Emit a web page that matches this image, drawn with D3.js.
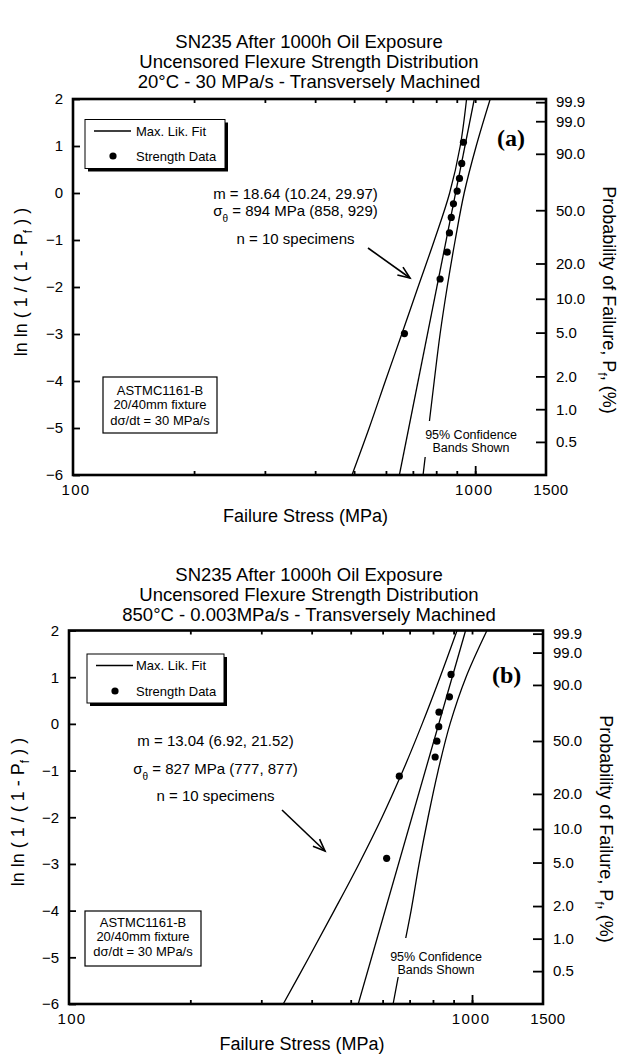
<!DOCTYPE html>
<html>
<head>
<meta charset="utf-8">
<script src="https://cdn.jsdelivr.net/npm/d3@7"></script>
<style>
body { margin: 0; background: #fff; }
svg text { font-family: "Liberation Sans", Arial, Helvetica, sans-serif; fill: #000; }
</style>
</head>
<body>
<div id="chart"></div>
<script>
// ---- data ----
var lnlnTicks = [2, 1, 0, -1, -2, -3, -4, -5, -6];
var probTicks = [99.9, 99.0, 90.0, 50.0, 20.0, 10.0, 5.0, 2.0, 1.0, 0.5];
var stressTicks = [200, 300, 400, 500, 600, 700, 800, 900, 1000];
var stressLabels = [100, 1000, 1500];
// ln ln levels where the confidence bands were read
var bandLevels = [2, 1, 0, -1, -2, -3, -4, -5, -6];

// panel (a)
var titleA = ["SN235 After 1000h Oil Exposure",
              "Uncensored Flexure Strength Distribution",
              "20°C - 30 MPa/s - Transversely Machined"];
var strengthA = [935, 926, 914, 902, 883, 872, 863, 852, 818, 667];
var lnlnA = [1.08, 0.63, 0.31, 0.04, -0.23, -0.52, -0.85, -1.26, -1.83, -2.99];
var fitStressA = [648, 995];
var fitLnlnA = [-6, 2];
var lowBandA = [952, 918, 864, 792, 721, 657, 598, 545, 494];
var highBandA = [1090, 1006, 939, 892, 852, 818, 791, 766, 742];
var statsA = ["m = 18.64 (10.24, 29.97)", " = 894 MPa (858, 929)", "n = 10 specimens"];

// panel (b)
var titleB = ["SN235 After 1000h Oil Exposure",
              "Uncensored Flexure Strength Distribution",
              "850°C - 0.003MPa/s - Transversely Machined"];
var strengthB = [887, 879, 828, 827, 818, 810, 660, 614];
var lnlnB = [1.06, 0.58, 0.25, -0.06, -0.37, -0.71, -1.12, -2.88];
var fitStressB = [522, 964];
var fitLnlnB = [-6, 2];
var lowBandB = [918, 833, 752, 674, 598, 524, 455, 394, 340];
var highBandB = [1089, 966, 882, 824, 778, 739, 706, 670, 637];
var statsB = ["m = 13.04 (6.92, 21.52)", " = 827 MPa (777, 877)", "n = 10 specimens"];

var astmLines = ["ASTMC1161-B", "20/40mm fixture", "dσ/dt = 30 MPa/s"];
var confLines = ["95% Confidence", "Bands Shown"];

var svg = d3.select("#chart").append("svg")
    .attr("width", 619)
    .attr("height", 1055);

var panels = [
  { id: "a", label: "(a)", title: titleA, s: strengthA, p: lnlnA,
    fitS: fitStressA, fitP: fitLnlnA, lo: lowBandA, hi: highBandA, stats: statsA,
    left: 73, right: 546, top: 99, bottom: 475,
    titleY: [48, 68, 88],
    legend: { x: 85, y: 119.5, w: 140, h: 49, row1: 131, row2: 156 },
    tagX: 497, tagY: 146,
    statsX: 295.5, statsY: [198.5, 215.5, 243.5],
    arrow: [[368, 248], [410, 278]],
    astm: { x: 103, y: 377, w: 114, h: 56, cx: 160, ys: [395, 408.5, 424.5] },
    conf: { cx: 471, ys: [439, 452], maskTop: 421, maskBot: 457 },
    yLabelX: 27, yLabelY: 282, rLabelX: 603, rLabelY: 300,
    xLabelY: 522, tickLabelY: 495 },
  { id: "b", label: "(b)", title: titleB, s: strengthB, p: lnlnB,
    fitS: fitStressB, fitP: fitLnlnB, lo: lowBandB, hi: highBandB, stats: statsB,
    left: 69, right: 543, top: 630.5, bottom: 1004,
    titleY: [581, 601, 621],
    legend: { x: 87, y: 654, w: 137, h: 49, row1: 665.5, row2: 691 },
    tagX: 492, tagY: 683,
    statsX: 215.5, statsY: [745.5, 773.5, 800.5],
    arrow: [[282, 810], [325, 851]],
    astm: { x: 85, y: 911, w: 116, h: 55, cx: 143, ys: [927, 940.5, 956] },
    conf: { cx: 436, ys: [960.5, 973.5], maskTop: 938, maskBot: 977 },
    yLabelX: 24, yLabelY: 812, rLabelX: 600, rLabelY: 829,
    xLabelY: 1050, tickLabelY: 1024 }
];

function toLnln(pct) { return Math.log(-Math.log(1 - pct / 100)); }

panels.forEach(function(cfg) {
  var x = d3.scaleLog().domain([100, 1500]).range([cfg.left, cfg.right]);
  var y = d3.scaleLinear().domain([-6, 2]).range([cfg.bottom, cfg.top]);
  var g = svg.append("g");

  // title
  g.selectAll(".title").data(cfg.title).enter().append("text")
      .attr("x", 309).attr("y", function(d, i) { return cfg.titleY[i]; })
      .attr("text-anchor", "middle").attr("font-size", "18.5px")
      .text(function(d) { return d; });

  // clip
  g.append("clipPath").attr("id", "clip" + cfg.id)
    .append("rect")
      .attr("x", cfg.left).attr("y", cfg.top)
      .attr("width", cfg.right - cfg.left).attr("height", cfg.bottom - cfg.top);

  var plot = g.append("g").attr("clip-path", "url(#clip" + cfg.id + ")");

  // fit line
  var fitPts = cfg.fitS.map(function(s, i) { return [s, cfg.fitP[i]]; });
  var line = d3.line().x(function(d) { return x(d[0]); }).y(function(d) { return y(d[1]); });
  plot.append("path").datum(fitPts)
      .attr("d", line).attr("fill", "none").attr("stroke", "#000").attr("stroke-width", 1.3);

  // confidence bands
  var band = d3.line().curve(d3.curveCatmullRom)
      .x(function(d) { return x(d[0]); }).y(function(d) { return y(d[1]); });
  [cfg.lo, cfg.hi].forEach(function(arr) {
    plot.append("path").datum(arr.map(function(s, i) { return [s, bandLevels[i]]; }))
        .attr("d", band).attr("fill", "none").attr("stroke", "#000").attr("stroke-width", 1.3);
  });

  // data points
  plot.selectAll(".pt").data(cfg.s).enter().append("circle")
      .attr("cx", function(d) { return x(d); })
      .attr("cy", function(d, i) { return y(cfg.p[i]); })
      .attr("r", 3.6).attr("fill", "#000");

  // confidence text with white mask
  var cw = 100;
  g.append("rect")
      .attr("x", cfg.conf.cx - cw / 2).attr("y", cfg.conf.maskTop)
      .attr("width", cw).attr("height", cfg.conf.maskBot - cfg.conf.maskTop)
      .attr("fill", "#fff");
  g.selectAll(".conf").data(confLines).enter().append("text")
      .attr("x", cfg.conf.cx).attr("y", function(d, i) { return cfg.conf.ys[i]; })
      .attr("text-anchor", "middle").attr("font-size", "12.5px")
      .text(function(d) { return d; });

  // axes
  var axBot = g.append("g").attr("transform", "translate(0," + cfg.bottom + ")")
      .call(d3.axisBottom(x).tickValues(stressTicks).tickSize(-4).tickFormat(""));
  var axBot2 = g.append("g").attr("transform", "translate(0," + cfg.bottom + ")")
      .call(d3.axisBottom(x).tickValues([1000]).tickSize(-9).tickFormat(""));
  var axTop = g.append("g").attr("transform", "translate(0," + cfg.top + ")")
      .call(d3.axisTop(x).tickValues(stressTicks).tickSize(-4).tickFormat(""));
  var axLeft = g.append("g").attr("transform", "translate(" + cfg.left + ",0)")
      .call(d3.axisLeft(y).tickValues(lnlnTicks).tickSize(-7).tickPadding(10).tickFormat(d3.format("d")));
  var axRight = g.append("g").attr("transform", "translate(" + cfg.right + ",0)")
      .call(d3.axisRight(y).tickValues(probTicks.map(toLnln)).tickSize(-10).tickPadding(10)
        .tickFormat(function(d, i) { return probTicks[i].toFixed(1); }));

  [axBot, axBot2, axTop, axLeft, axRight].forEach(function(a) {
    a.select(".domain").remove();
    a.selectAll(".tick line").attr("stroke-width", 1.8);
    a.selectAll("text").attr("font-size", "15px")
      .attr("font-family", "'Liberation Sans', Arial, sans-serif");
  });

  // x tick labels
  g.selectAll(".xl").data(stressLabels).enter().append("text")
      .attr("x", function(d) { return x(d) + (d === 1500 ? 5 : (d === 100 ? 3 : -1)); })
      .attr("y", cfg.tickLabelY)
      .attr("text-anchor", "middle").attr("font-size", "15px")
      .attr("letter-spacing", function(d) { return d === 1500 ? "0.5px" : "1.3px"; })
      .text(function(d) { return d; });

  // frame
  g.append("rect")
      .attr("x", cfg.left).attr("y", cfg.top)
      .attr("width", cfg.right - cfg.left).attr("height", cfg.bottom - cfg.top)
      .attr("fill", "none").attr("stroke", "#000").attr("stroke-width", 2.6);

  // legend with shadow
  var L = cfg.legend;
  g.append("rect").attr("x", L.x + 3).attr("y", L.y + 3).attr("width", L.w).attr("height", L.h)
      .attr("fill", "#000");
  g.append("rect").attr("x", L.x).attr("y", L.y).attr("width", L.w).attr("height", L.h)
      .attr("fill", "#fff").attr("stroke", "#000").attr("stroke-width", 1);
  g.append("line").attr("x1", L.x + 9).attr("x2", L.x + 46)
      .attr("y1", L.row1).attr("y2", L.row1).attr("stroke", "#000").attr("stroke-width", 1.3);
  g.append("circle").attr("cx", L.x + 28).attr("cy", L.row2).attr("r", 3.6).attr("fill", "#000");
  g.append("text").attr("x", 136).attr("y", L.row1 + 4.5).attr("font-size", "13px").text("Max. Lik. Fit");
  g.append("text").attr("x", 136).attr("y", L.row2 + 4.5).attr("font-size", "13px").text("Strength Data");

  // panel tag
  g.append("text").attr("x", cfg.tagX).attr("y", cfg.tagY)
      .attr("font-weight", "bold").attr("font-size", "24px")
      .style("font-family", "'Liberation Serif', 'Times New Roman', serif")
      .text(cfg.label);

  // stats
  g.append("text").attr("x", cfg.statsX).attr("y", cfg.statsY[0])
      .attr("text-anchor", "middle").attr("font-size", "15px").text(cfg.stats[0]);
  var st = g.append("text").attr("x", cfg.statsX).attr("y", cfg.statsY[1])
      .attr("text-anchor", "middle").attr("font-size", "15px");
  st.append("tspan").text("σ");
  st.append("tspan").attr("font-size", "10px").attr("dy", 6).text("θ");
  st.append("tspan").attr("dy", -6).text(cfg.stats[1]);
  g.append("text").attr("x", cfg.statsX).attr("y", cfg.statsY[2])
      .attr("text-anchor", "middle").attr("font-size", "15px").text(cfg.stats[2]);

  // arrow
  var a0 = cfg.arrow[0], a1 = cfg.arrow[1];
  var ang = Math.atan2(a1[1] - a0[1], a1[0] - a0[0]);
  var hl = 13, spread = 0.38;
  g.append("line").attr("x1", a0[0]).attr("y1", a0[1]).attr("x2", a1[0]).attr("y2", a1[1])
      .attr("stroke", "#000").attr("stroke-width", 1.6);
  g.append("path")
      .attr("d", "M" + (a1[0] - hl * Math.cos(ang - spread)) + "," + (a1[1] - hl * Math.sin(ang - spread)) +
                 "L" + a1[0] + "," + a1[1] +
                 "L" + (a1[0] - hl * Math.cos(ang + spread)) + "," + (a1[1] - hl * Math.sin(ang + spread)))
      .attr("fill", "none").attr("stroke", "#000").attr("stroke-width", 1.6);

  // ASTM box
  var A = cfg.astm;
  g.append("rect").attr("x", A.x).attr("y", A.y).attr("width", A.w).attr("height", A.h)
      .attr("fill", "#fff").attr("stroke", "#000").attr("stroke-width", 1.2);
  g.selectAll(".astm").data(astmLines).enter().append("text")
      .attr("x", A.cx).attr("y", function(d, i) { return A.ys[i]; })
      .attr("text-anchor", "middle").attr("font-size", "13px")
      .text(function(d) { return d; });

  // axis titles
  g.append("text").attr("x", (cfg.left + cfg.right) / 2 - 4).attr("y", cfg.xLabelY)
      .attr("text-anchor", "middle").attr("font-size", "18px").text("Failure Stress (MPa)");

  var yl = g.append("text")
      .attr("transform", "translate(" + cfg.yLabelX + "," + cfg.yLabelY + ") rotate(-90)")
      .attr("text-anchor", "middle").attr("font-size", "18px");
  yl.append("tspan").text("ln ln ( 1 / ( 1 - P");
  yl.append("tspan").attr("font-size", "12px").attr("dy", 5).text("f");
  yl.append("tspan").attr("dy", -5).text(" ) )");

  var rl = g.append("text")
      .attr("transform", "translate(" + cfg.rLabelX + "," + cfg.rLabelY + ") rotate(90)")
      .attr("text-anchor", "middle").attr("font-size", "18px");
  rl.append("tspan").text("Probability of Failure, P");
  rl.append("tspan").attr("font-size", "12px").attr("dy", 5).text("f");
  rl.append("tspan").attr("dy", -5).text(", (%)");
});
</script>
</body>
</html>
